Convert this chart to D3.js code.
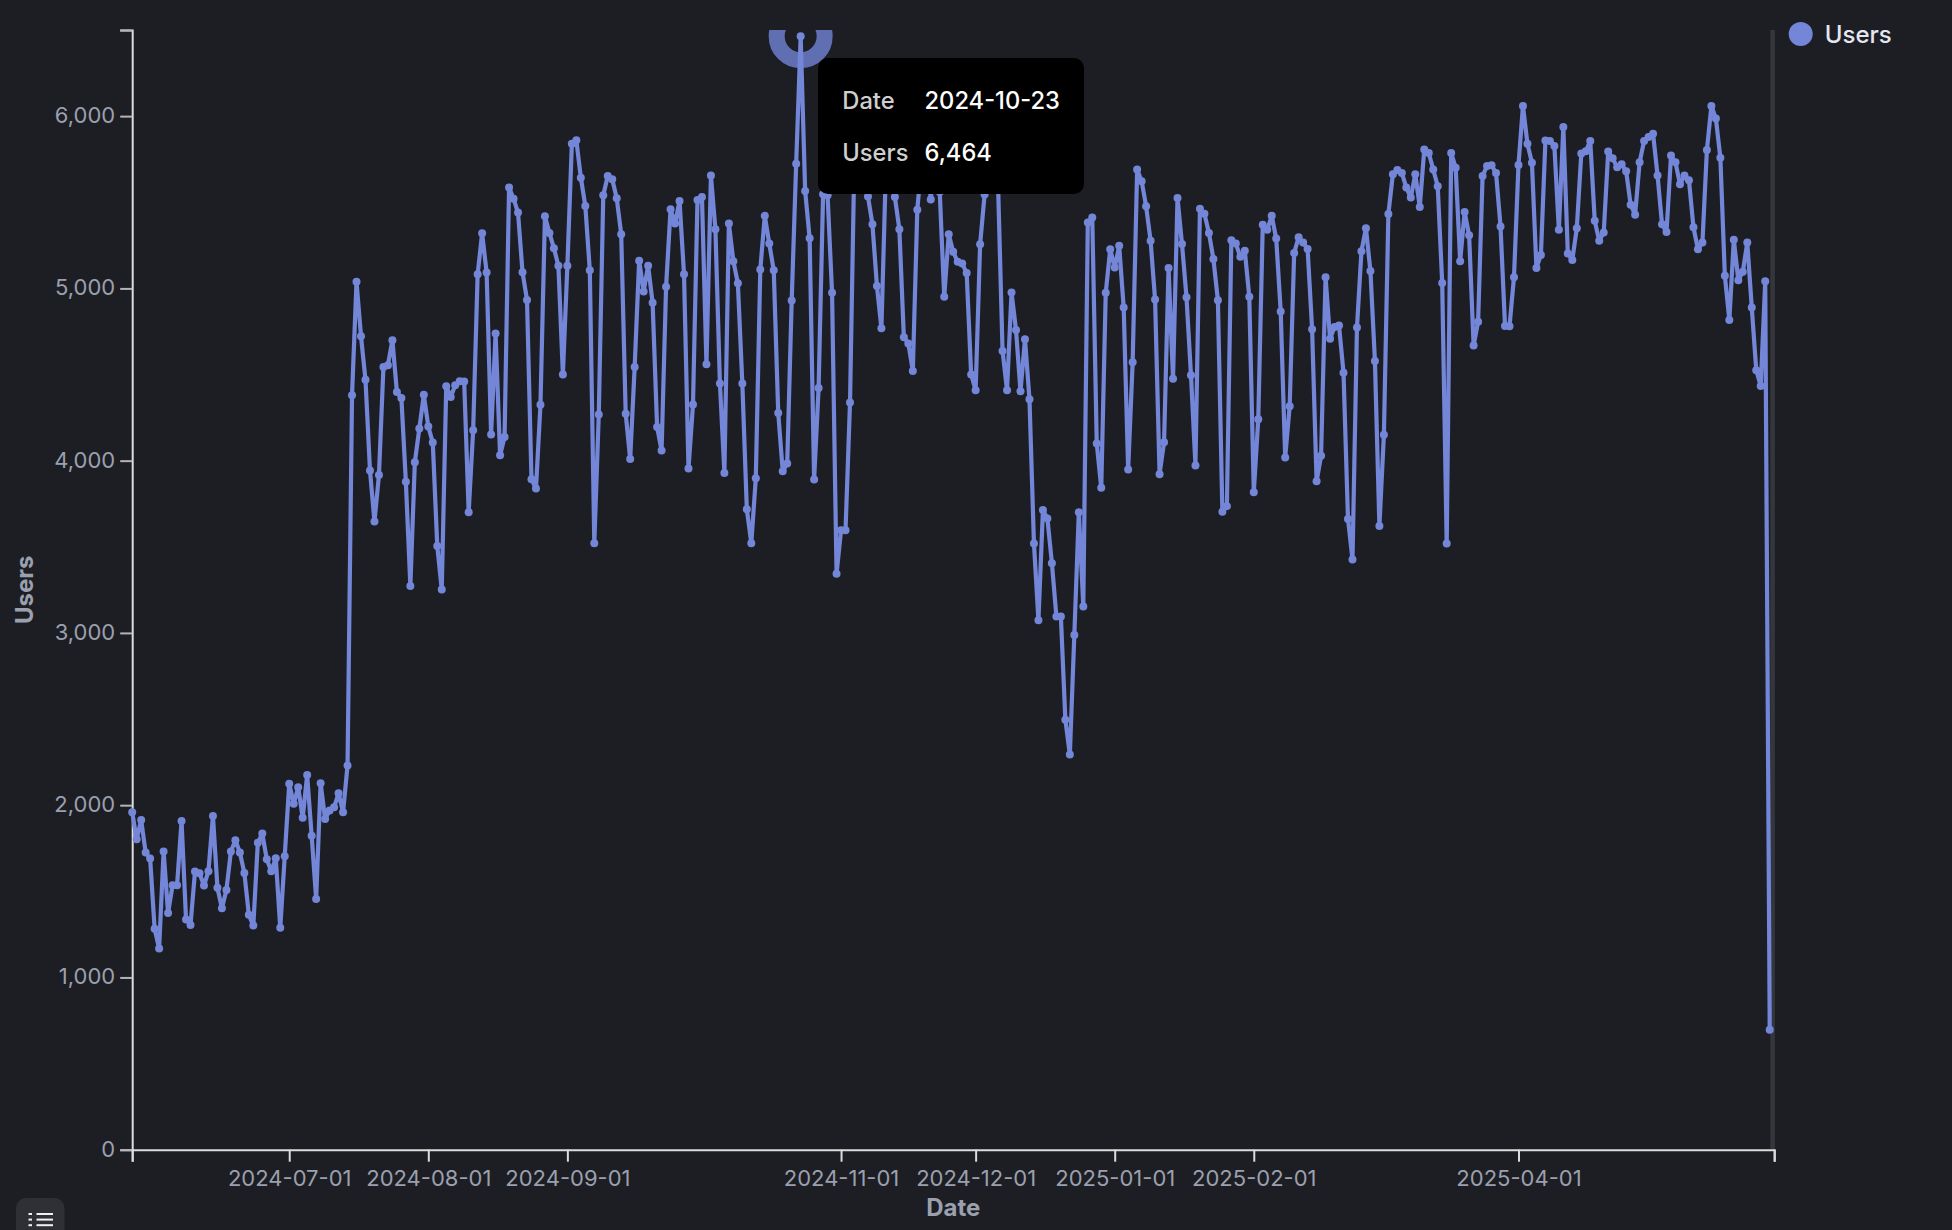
<!DOCTYPE html>
<html><head><meta charset="utf-8">
<script src="https://cdn.jsdelivr.net/npm/d3@7/dist/d3.min.js"></script>
<style>html,body{margin:0;padding:0;background:#1d1e24;overflow:hidden}svg{display:block}text{font-family:Inter,"Noto Sans",sans-serif}</style>
</head><body><div id="chart"></div>
<script>
const startDate = "2024-05-27";
const endDate = "2025-05-28";
const users = [
1959,1802,1914,1725,1690,1282,1168,1731,1374,1535,1535,1908,1337,1305,1615,1605,1533,1617,1937,1521,
1401,1507,1731,1796,1725,1607,1364,1301,1782,1835,1686,1617,1692,1288,1704,2124,2008,2104,1927,2175,
1823,1456,2128,1920,1969,1988,2069,1959,2230,4380,5038,4722,4469,3943,3647,3916,4544,4554,4699,4399,
4364,3877,3273,3991,4186,4382,4198,4105,3505,3252,4432,4370,4438,4461,4459,3701,4177,5082,5320,5092,
4152,4738,4032,4138,5585,5521,5440,5094,4933,3892,3838,4324,5419,5322,5233,5132,4500,5132,5839,5860,
5643,5479,5105,3521,4268,5541,5653,5634,5523,5314,4272,4010,4544,5161,4982,5132,4916,4196,4059,5009,
5459,5376,5508,5082,3954,4326,5513,5531,4560,5655,5343,4448,3929,5376,5158,5030,4448,3718,3521,3898,
5109,5421,5260,5105,4277,3939,3983,4929,5724,6464,5566,5291,3890,4422,5547,5540,4974,3343,3596,3596,
4337,5800,5900,5700,5534,5372,5014,4769,5700,5800,5530,5343,4717,4680,4521,5457,5750,5800,5516,5800,
5560,4951,5314,5212,5154,5144,5090,4500,4409,5256,5545,5700,5800,5600,4637,4409,4976,4759,4403,4705,
4357,3519,3074,3713,3664,3405,3096,3096,2496,2294,2988,3701,3154,5382,5411,4099,3842,4974,5227,5121,
5247,4889,3948,4571,5690,5622,5477,5276,4935,3921,4107,5119,4475,5525,5258,4949,4496,3972,5463,5434,
5322,5171,4931,3703,3736,5280,5260,5183,5218,4951,3817,4241,5369,5341,5421,5289,4866,4018,4316,5206,
5297,5266,5229,4763,3881,4028,5065,4707,4776,4784,4510,3662,3426,4773,5216,5349,5101,4579,3620,4150,
5432,5663,5688,5670,5585,5527,5663,5473,5806,5786,5690,5593,5032,3519,5786,5701,5158,5444,5308,4668,
4806,5653,5711,5715,5670,5359,4782,4780,5065,5717,6059,5839,5730,5119,5194,5858,5856,5827,5341,5937,
5202,5165,5349,5783,5796,5856,5392,5276,5324,5794,5755,5703,5720,5680,5486,5428,5732,5856,5879,5898,
5655,5372,5328,5771,5732,5604,5655,5628,5355,5227,5266,5804,6059,5986,5759,5074,4817,5283,5047,5096,
5266,4889,4525,4434,5041,697];
const xTickLabels = ["2024-07-01","2024-08-01","2024-09-01","2024-11-01","2024-12-01","2025-01-01","2025-02-01","2025-04-01"];
const yTickValues = [0,1000,2000,3000,4000,5000,6000,6500];
const hoverIndex = 149;
const seriesName = "Users";
const xTitle = "Date";
const tooltipLabels = ["Date","Users"];

const W=1952,H=1230;
const parse=d3.utcParse("%Y-%m-%d"), fmt=d3.utcFormat("%Y-%m-%d");
const dates=users.map((_,i)=>d3.utcDay.offset(parse(startDate),i));
const L=132.2,R=1774.2,T=30,B=1149.7;
const x=d3.scaleUtc().domain([parse(startDate),parse(endDate)]).range([L,R]);
const y=d3.scaleLinear().domain([0,6500]).range([B,T]);
const COLOR="#7386d8";
const svg=d3.select("#chart").append("svg").attr("width",W).attr("height",H);

// pointer band at the right edge
svg.append("rect").attr("x",R-3.9).attr("y",T).attr("width",4.6).attr("height",B-T).attr("fill","#35363b");

// axes
const yAxis=d3.axisLeft(y).tickValues(yTickValues).tickSize(12).tickPadding(5)
  .tickFormat(d=>d===6500?"":d3.format(",")(d));
const gy=svg.append("g").attr("transform",`translate(${L},0)`).call(yAxis);
const xVals=[parse(startDate),...xTickLabels.map(parse),parse(endDate)];
const xAxis=d3.axisBottom(x).tickValues(xVals).tickSize(12).tickPadding(9)
  .tickFormat(d=>xTickLabels.includes(fmt(d))?fmt(d):"");
const gx=svg.append("g").attr("transform",`translate(0,${B})`).call(xAxis);
[gx,gy].forEach(g=>{
  g.select(".domain").attr("stroke","#dcdcdc").attr("stroke-width",2);
  g.selectAll(".tick line").attr("stroke","#b5b5b8").attr("stroke-width",2);
  g.selectAll(".tick text").attr("fill","#9ba0ae").attr("font-size",22).attr("font-family","Inter");
});
gy.selectAll(".tick text").attr("dy","0.29em");
gx.selectAll(".tick line").attr("stroke","#dcdcdc");
svg.append("text").attr("transform",`translate(33,${(T+B)/2}) rotate(-90)`).attr("text-anchor","middle")
  .attr("fill","#9ba0ae").attr("font-size",24).attr("font-weight",700).text(seriesName);
svg.append("text").attr("x",(L+R)/2).attr("y",1216).attr("text-anchor","middle")
  .attr("fill","#9ba0ae").attr("font-size",24).attr("font-weight",700).text(xTitle);

// hover ring (clipped to the plot)
svg.append("clipPath").attr("id","plot").append("rect").attr("x",0).attr("y",T).attr("width",W).attr("height",B-T);
svg.append("circle").attr("clip-path","url(#plot)")
  .attr("cx",x(dates[hoverIndex])).attr("cy",y(users[hoverIndex])).attr("r",24)
  .attr("fill","none").attr("stroke",COLOR).attr("stroke-opacity",.78).attr("stroke-width",16);

// line and points
const line=d3.line().x((d,i)=>x(dates[i])).y(d=>y(d));
svg.append("path").datum(users).attr("d",line).attr("fill","none").attr("stroke",COLOR)
  .attr("stroke-width",4.2).attr("stroke-linejoin","bevel");
svg.append("g").selectAll("circle").data(users).join("circle")
  .attr("cx",(d,i)=>x(dates[i])).attr("cy",d=>y(d)).attr("r",4).attr("fill",COLOR);

// legend
svg.append("circle").attr("cx",1800.7).attr("cy",34).attr("r",12).attr("fill",COLOR);
svg.append("text").attr("x",1824.7).attr("y",43).attr("fill","#e4e7f0").attr("font-size",24).attr("font-weight",500).text(seriesName);

// tooltip
svg.append("rect").attr("x",818).attr("y",58).attr("width",266).attr("height",136).attr("rx",10).attr("fill","#000");
const tipVals=[fmt(dates[hoverIndex]),d3.format(",")(users[hoverIndex])];
tooltipLabels.forEach((t,i)=>{
  const by=109+i*52;
  svg.append("text").attr("x",842.3).attr("y",by).attr("fill","#cfcfcf").attr("font-size",23.7).attr("font-weight",500).text(t);
  svg.append("text").attr("x",924.5).attr("y",by).attr("fill","#fff").attr("font-size",23.7).attr("font-weight",500).text(tipVals[i]);
});

// list button
svg.append("rect").attr("x",16).attr("y",1198).attr("width",48.5).attr("height",60).attr("rx",10).attr("fill","#2f3035");
[1214,1219.6,1225.2].forEach(py=>{
  svg.append("rect").attr("x",28.5).attr("y",py-1).attr("width",3.5).attr("height",2).attr("fill","#f0f0f0");
  svg.append("rect").attr("x",36.5).attr("y",py-1).attr("width",16.5).attr("height",2).attr("fill","#f0f0f0");
});
</script></body></html>
